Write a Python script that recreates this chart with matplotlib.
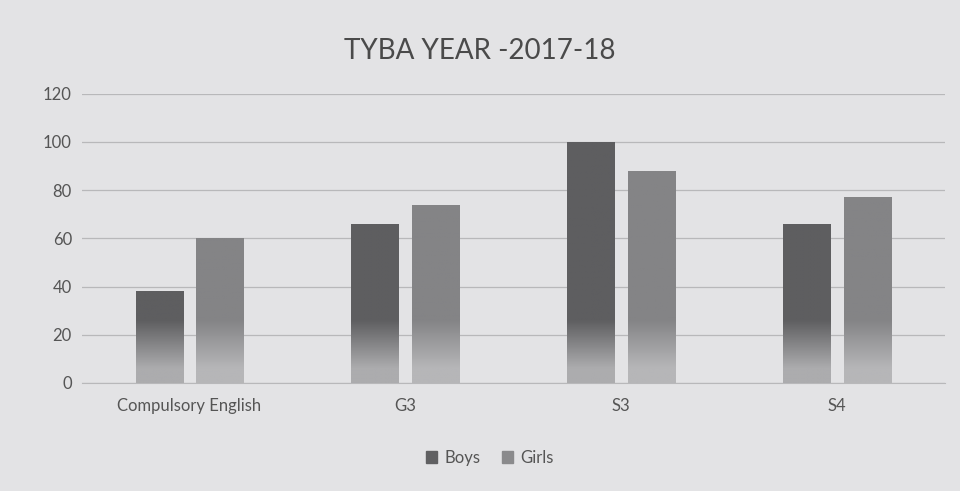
import matplotlib
matplotlib.use('Agg')
import matplotlib.pyplot as plt
import numpy as np
from matplotlib.patches import Patch

categories = ['Compulsory English', 'G3', 'S3', 'S4']
boys = [38, 66, 100, 66]
girls = [60, 74, 88, 77]
y_ticks = [0, 20, 40, 60, 80, 100, 120]

plt.rcParams['font.family'] = ['Lato', 'DejaVu Sans']

bg = '#e3e3e5'
fig = plt.figure(figsize=(9.6, 4.91), dpi=100, facecolor=bg)
ax = fig.add_axes([0.085, 0.22, 0.899, 0.589], facecolor=bg)

x = np.arange(len(categories))
w = 0.218
off = 0.141
bars_b = ax.bar(x - off, boys, w, color='#606062', zorder=3)
bars_g = ax.bar(x + off, girls, w, color='#858587', zorder=3)


def gradient_fill(bars, top_col, bottom_col):
    # solid colour down to ~25, then fades lighter towards the base
    top = np.array(matplotlib.colors.to_rgb(top_col))
    bot = np.array(matplotlib.colors.to_rgb(bottom_col))
    for b in bars:
        x0, y0 = b.get_x(), b.get_y()
        x1, y1 = x0 + b.get_width(), y0 + b.get_height()
        yy = np.linspace(y0, y1, 200)[:, None]
        ramp = np.clip((yy - 6) / 20, 0, 1)
        img = (bot + (top - bot) * ramp)[:, None, :]
        im = ax.imshow(img, extent=[x0, x1, y0, y1], origin='lower',
                       aspect='auto', zorder=4)
        im.set_clip_path(b)


gradient_fill(bars_b, '#5e5e60', '#acacae')
gradient_fill(bars_g, '#848486', '#b6b6b8')

ax.set_xlim(-0.5, 3.5)
ax.set_ylim(0, 120)
ax.set_yticks(y_ticks)
ax.set_xticks(x)
ax.set_xticklabels(categories)
ax.tick_params(axis='both', length=0, labelsize=12, colors='#555555')
ax.tick_params(axis='x', pad=11)
ax.tick_params(axis='y', pad=7)
ax.grid(axis='y', color='#b8b8ba', linewidth=0.9, zorder=0)
for s in ['top', 'right', 'left']:
    ax.spines[s].set_visible(False)
ax.spines['bottom'].set_color('#b8b8ba')

fig.text(0.5, 0.897, 'TYBA YEAR -2017-18', ha='center', va='center',
         fontsize=20, color='#4a4a4a')

handles = [Patch(color='#606062', label='Boys'), Patch(color='#8a8a8c', label='Girls')]
fig.legend(handles=handles, loc='center', bbox_to_anchor=(0.51, 0.067), ncol=2,
           frameon=False, fontsize=12, handlelength=0.7, handleheight=0.7,
           columnspacing=1.3, handletextpad=0.4, labelcolor='#555555')

plt.savefig('out.png', dpi=100, facecolor=bg)
plt.close()
